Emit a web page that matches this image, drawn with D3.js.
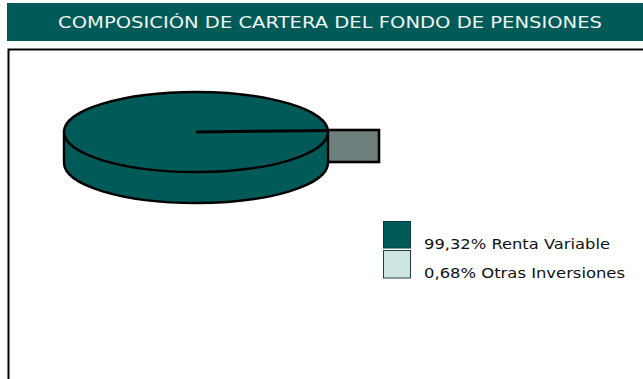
<!DOCTYPE html>
<html><head><meta charset="utf-8">
<script src="https://cdn.jsdelivr.net/npm/d3@7"></script>
<style>html,body{margin:0;padding:0;background:#fff}svg{display:block}text{font-family:"DejaVu Sans",sans-serif}</style>
</head><body><svg id="c" width="643" height="379"></svg>
<script>
const titleText = "COMPOSICIÓN DE CARTERA DEL FONDO DE PENSIONES";
const categories = ["Renta Variable", "Otras Inversiones"];
const values = [99.32, 0.68];
const labels = ["99,32% Renta Variable", "0,68% Otras Inversiones"];
const fills = ["#005a58", "#cce5e3"];

const svg = d3.select("#c");
const dark = fills[0];
svg.append("rect").attr("x",7).attr("y",3).attr("width",636).attr("height",38).attr("fill",dark);
svg.append("text").attr("x",330).attr("y",28).attr("text-anchor","middle").attr("fill","#eef5f4")
  .style("font-size","15.2px").attr("textLength",544).attr("lengthAdjust","spacingAndGlyphs").text(titleText);
svg.append("path").attr("d","M8.5,379V49.5H643").attr("fill","none").attr("stroke","#000").attr("stroke-width",2);

const cx=196, cy=132, rx=132, ry=40, depth=31;
const arcs = d3.pie().sort(null).startAngle(Math.PI/2).endAngle(Math.PI/2+2*Math.PI)(values);
const px = d3.scaleLinear().domain([-1,1]).range([cx-rx,cx+rx]);
const py = d3.scaleLinear().domain([-1,1]).range([cy-ry,cy+ry]);

const small = arcs[1];
const x0 = px(1)-1, explode = 53;
svg.append("rect").attr("x",x0).attr("y",cy-2).attr("width",explode-1).attr("height",depth+1)
  .attr("fill","#6f7f7d").attr("stroke","#000").attr("stroke-width",2.6);

svg.append("path")
  .attr("d",`M${px(-1)},${cy}V${cy+depth}A${rx},${ry} 0 0 0 ${px(1)},${cy+depth}V${cy}Z`)
  .attr("fill",dark).attr("stroke","#000").attr("stroke-width",2.4);
svg.append("ellipse").attr("cx",px(0)).attr("cy",py(0)).attr("rx",rx).attr("ry",ry)
  .attr("fill",dark).attr("stroke","#000").attr("stroke-width",2.4);
const a = small.endAngle - Math.PI/2;
svg.append("line").attr("x1",px(0)).attr("y1",py(0)).attr("x2",px(Math.sin(a+Math.PI/2)))
  .attr("y2",py(0)-1.5).attr("stroke","#000").attr("stroke-width",3);

const leg = svg.selectAll("g.leg").data(categories).join("g").attr("class","leg")
  .attr("transform",(d,i)=>`translate(383,${221+i*29})`);
leg.append("rect").attr("x",.5).attr("y",.5).attr("width",27).attr("height",(d,i)=>i?27.5:26.5)
  .attr("fill",(d,i)=>fills[i]).attr("stroke",(d,i)=>i?"#22403e":"#003f3d").attr("stroke-width",1);
leg.append("text").attr("x",41).attr("y",28).style("font-size","14.3px").attr("fill","#111")
  .attr("textLength",(d,i)=>i?201:186).attr("lengthAdjust","spacingAndGlyphs").text((d,i)=>labels[i]);
</script></body></html>
